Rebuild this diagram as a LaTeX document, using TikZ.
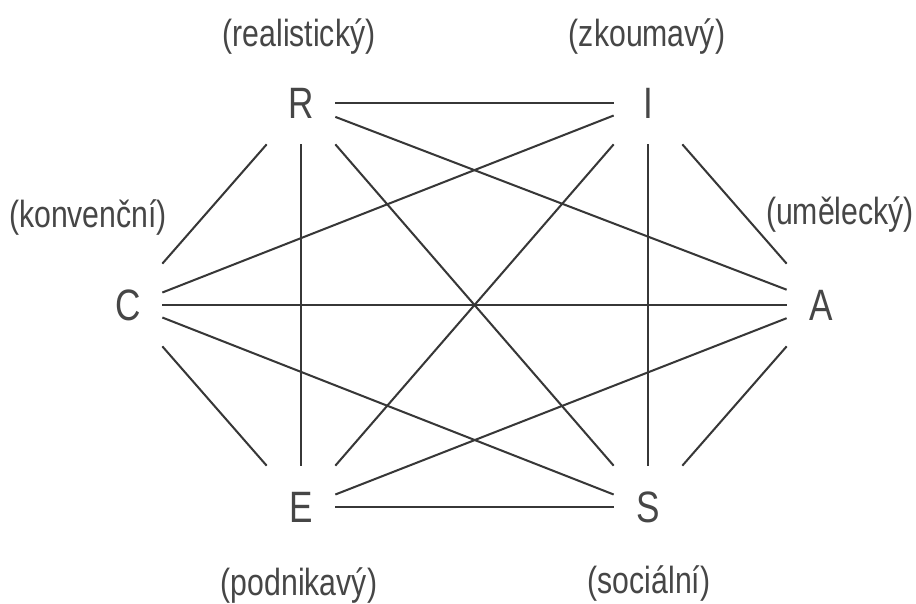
\documentclass[tikz,border=0pt]{standalone}
\usepackage{fontspec}
\newfontfamily\diagfont{Liberation Sans}[FakeStretch=0.8]
\usepackage{tikz}
\definecolor{inkgray}{RGB}{55, 55, 55}
\definecolor{textgray}{RGB}{70, 70, 70}

\begin{document}
\begin{tikzpicture}[
    x=0.02cm, y=-0.02cm,
    letter/.style={rectangle, minimum width=1.36cm, minimum height=1.64cm, inner sep=0pt, text=textgray, font=\diagfont\fontsize{25}{30}\selectfont},
    typename/.style={inner sep=0pt, text=textgray, font=\diagfont\fontsize{21.5}{26}\selectfont},
    edge/.style={draw=inkgray, line width=1.15pt}
]
\useasboundingbox[fill=white] (0,0) rectangle (916,603);

% Types
\node[letter] (R) at (301,103) {R};
\node[letter] (I) at (648,103) {I};
\node[letter] (C) at (128,305) {C};
\node[letter] (A) at (821,305) {A};
\node[letter] (E) at (301,507) {E};
\node[letter] (S) at (648,507) {S};

% Names
\node[typename] (realisticky) at (299,37) {(realistický)};
\node[typename] (zkoumavy) at (647,37) {(zkoumavý)};
\node[typename] (konvencni) at (88,217) {(konvenční)};
\node[typename] (umelecky) at (840,215) {(umělecký)};
\node[typename] (podnikavy) at (299,585) {(podnikavý)};
\node[typename] (socialni) at (649,583) {(sociální)};

% Links
\draw[edge] (R.east) -- (I.west);
\draw[edge] (R.-22) -- (A.156);
\draw[edge] (R.south east) -- (S.north west);
\draw[edge] (R.south) -- (E.north);
\draw[edge] (R.south west) -- (C.north east);
\draw[edge] (I.-160) -- (C.20);
\draw[edge] (I.south west) -- (E.north east);
\draw[edge] (I.south) -- (S.north);
\draw[edge] (I.south east) -- (A.north west);
\draw[edge] (C.east) -- (A.west);
\draw[edge] (C.-20) -- (S.160);
\draw[edge] (C.south east) -- (E.north west);
\draw[edge] (A.-159) -- (E.20);
\draw[edge] (A.south west) -- (S.north east);
\draw[edge] (E.east) -- (S.west);
\end{tikzpicture}
\end{document}
